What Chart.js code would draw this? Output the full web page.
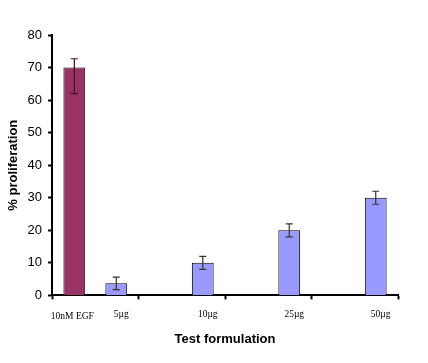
<!DOCTYPE html>
<html>
<head>
<meta charset="utf-8">
<script src="https://cdn.jsdelivr.net/npm/chart.js@4.4.0/dist/chart.umd.min.js"></script>
<style>
  body { margin: 0; background: #fff; }
  #wrap { width: 428px; height: 363px; }
</style>
</head>
<body>
<div id="wrap"><canvas id="proliferation"></canvas></div>
<script>
// category groups on the axis (4 slots, first slot holds the EGF control + 5µg)
const groups = ["g1", "g2", "g3", "g4"];
const egfValues = [70, null, null, null];
const egfErrLow = [8, null, null, null];
const egfErrHigh = [2.7, null, null, null];
const testValues = [3.7, 10, 20, 30];
const testErr = [1.9, 2, 2, 2];
const egfLabels = ["10nM EGF", null, null, null];
const testLabels = ["5µg", "10µg", "25µg", "50µg"];
const yTicks = [0, 10, 20, 30, 40, 50, 60, 70, 80];

const errorBars = {
  id: "errorBars",
  afterDatasetsDraw(chart) {
    const ctx = chart.ctx;
    const y = chart.scales.y;
    const sets = [
      { idx: 0, vals: egfValues, lo: egfErrLow, hi: egfErrHigh, color: "#3a1020" },
      { idx: 1, vals: testValues, lo: testErr, hi: testErr, color: "#333" }
    ];
    ctx.save();
    sets.forEach((s) => {
      const meta = chart.getDatasetMeta(s.idx);
      meta.data.forEach((bar, i) => {
        if (s.vals[i] == null) return;
        const x = bar.x;
        const top = y.getPixelForValue(s.vals[i] + s.hi[i]);
        const bot = y.getPixelForValue(s.vals[i] - s.lo[i]);
        ctx.strokeStyle = s.color;
        ctx.lineWidth = 1.2;
        ctx.beginPath();
        ctx.moveTo(x, top); ctx.lineTo(x, bot);
        ctx.moveTo(x - 3.5, top); ctx.lineTo(x + 3.5, top);
        ctx.moveTo(x - 3.5, bot); ctx.lineTo(x + 3.5, bot);
        ctx.stroke();
      });
    });
    ctx.restore();
  }
};

const barLabels = {
  id: "barLabels",
  afterDraw(chart) {
    const ctx = chart.ctx;
    const base = chart.chartArea.bottom;
    ctx.save();
    ctx.fillStyle = "#000";
    ctx.font = "9.5px 'Liberation Serif', 'Times New Roman', serif";
    ctx.textAlign = "center";
    ctx.textBaseline = "middle";
    chart.getDatasetMeta(0).data.forEach((bar, i) => {
      if (egfLabels[i]) ctx.fillText(egfLabels[i], bar.x - 2, base + 21);
    });
    chart.getDatasetMeta(1).data.forEach((bar, i) => {
      ctx.fillText(testLabels[i], bar.x + 5, base + 19);
    });
    ctx.restore();
  }
};

new Chart(document.getElementById("proliferation"), {
  type: "bar",
  data: {
    labels: groups,
    datasets: [
      {
        label: "EGF",
        data: egfValues,
        backgroundColor: "#993366",
        borderColor: "#000",
        borderWidth: 1,
        borderSkipped: "bottom"
      },
      {
        label: "Test",
        data: testValues,
        backgroundColor: "#9999ff",
        borderColor: "#000",
        borderWidth: 1,
        borderSkipped: "bottom"
      }
    ]
  },
  options: {
    responsive: true,
    maintainAspectRatio: false,
    animation: false,
    categoryPercentage: 0.97,
    barPercentage: 0.52,
    layout: { padding: { top: 35, right: 30, left: 6, bottom: 16 } },
    plugins: {
      legend: { display: false },
      tooltip: { enabled: false }
    },
    scales: {
      x: {
        grid: {
          display: true,
          drawOnChartArea: false,
          drawTicks: true,
          tickLength: 4,
          tickWidth: 2,
          color: "#000"
        },
        border: { color: "#000", width: 2 },
        ticks: { display: false },
        title: {
          display: true,
          text: "Test formulation",
          color: "#000",
          font: { family: "'Liberation Sans', Arial, sans-serif", size: 13, weight: "bold" },
          padding: { top: 32, bottom: 0 }
        }
      },
      y: {
        min: 0,
        max: 80,
        afterBuildTicks(scale) {
          scale.ticks = yTicks.map((v) => ({ value: v }));
        },
        grid: {
          display: true,
          drawOnChartArea: false,
          drawTicks: true,
          tickLength: 4,
          tickWidth: 2,
          color: "#000"
        },
        border: { color: "#000", width: 2 },
        ticks: {
          color: "#000",
          padding: 6,
          font: { family: "'Liberation Sans', Arial, sans-serif", size: 13 }
        },
        title: {
          display: true,
          text: "% proliferation",
          color: "#000",
          font: { family: "'Liberation Sans', Arial, sans-serif", size: 13, weight: "bold" },
          padding: { top: 0, bottom: 0 }
        }
      }
    }
  },
  plugins: [errorBars, barLabels]
});
</script>
</body>
</html>
